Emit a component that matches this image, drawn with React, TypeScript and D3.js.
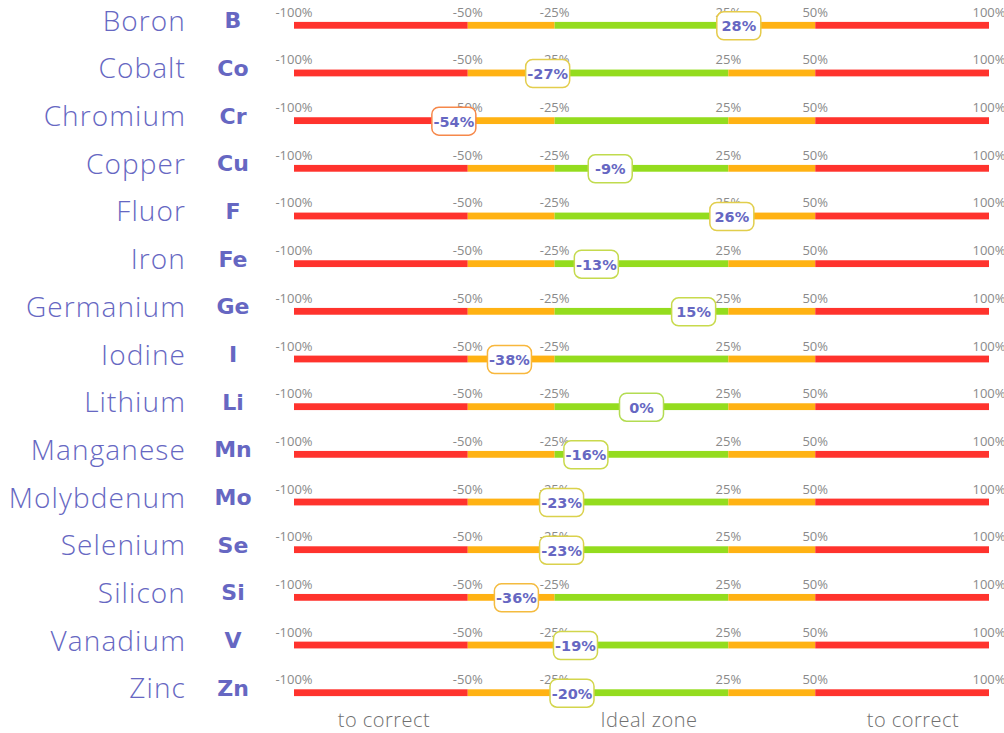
import React from "react";
import * as d3 from "d3";

const names = ["Boron","Cobalt","Chromium","Copper","Fluor","Iron","Germanium","Iodine","Lithium","Manganese","Molybdenum","Selenium","Silicon","Vanadium","Zinc"];
const symbols = ["B","Co","Cr","Cu","F","Fe","Ge","I","Li","Mn","Mo","Se","Si","V","Zn"];
const values = [28,-27,-54,-9,26,-13,15,-38,0,-16,-23,-23,-36,-19,-20];
const tickValues = [-100,-50,-25,25,50,100];
const tickLabels = ["-100%","-50%","-25%","25%","50%","100%"];
const zoneBounds = [[-100,-50],[-50,-25],[-25,25],[25,50],[50,100]];
const zoneColors = ["#ff332d","#ffb213","#94dc1e","#ffb213","#ff332d"];
const footerLabels = ["to correct","Ideal zone","to correct"];
const footerX = [384, 649, 913];

const W = 1004, H = 733;
const x = d3.scaleLinear().domain([-100,100]).range([294,989]);
const y = d3.scaleLinear().domain([0,14]).range([25.3,692.7]);
const borderColor = d3.scaleLinear<string>()
  .domain([0,15,27,38,54])
  .range(["#b3dc52","#c8da4c","#e3cd4c","#f8b73c","#f6884a"])
  .clamp(true);

const textColor = "#6667c2";
const font = "'DejaVu Sans', sans-serif";
const lightFont = "'Open Sans', sans-serif";

export default function App() {
  return (
    <svg width={W} height={H} style={{position:"absolute",left:0,top:0,background:"#fff"}}>
      {names.map((n,i)=>{
        const cy = y(i);
        const v = values[i];
        const bx = x(v);
        return (
          <g key={n}>
            <text x={186} y={cy+5.5} textAnchor="end" fontFamily={lightFont} fontWeight={300} fontSize={28} letterSpacing={1.1} fill={textColor}>{n}</text>
            <text x={233} y={cy+3} textAnchor="middle" fontFamily={font} fontWeight={700} fontSize={22} fill={textColor}>{symbols[i]}</text>
            {tickValues.map((t,j)=>(
              <text key={t} x={x(t)} y={cy-8.5} textAnchor="middle" fontFamily={lightFont} fontSize={13} fill="#8a8a8a">{tickLabels[j]}</text>
            ))}
            {zoneBounds.map((z,j)=>(
              <rect key={j} x={x(z[0])} y={cy-3.4} width={x(z[1])-x(z[0])} height={6.8} fill={zoneColors[j]} />
            ))}
            <rect x={bx-22} y={cy-13.5} width={44} height={28} rx={7} fill="#fff" stroke={borderColor(Math.abs(v))} strokeWidth={1.5} />
            <text x={bx} y={cy+6} textAnchor="middle" fontFamily={font} fontWeight={700} fontSize={14.5} fill={textColor}>{v}%</text>
          </g>
        );
      })}
      {footerLabels.map((l,i)=>(
        <text key={i} x={footerX[i]} y={727} textAnchor="middle" fontFamily={lightFont} fontWeight={300} fontSize={20} letterSpacing={0.5} fill="#707070">{l}</text>
      ))}
    </svg>
  );
}
